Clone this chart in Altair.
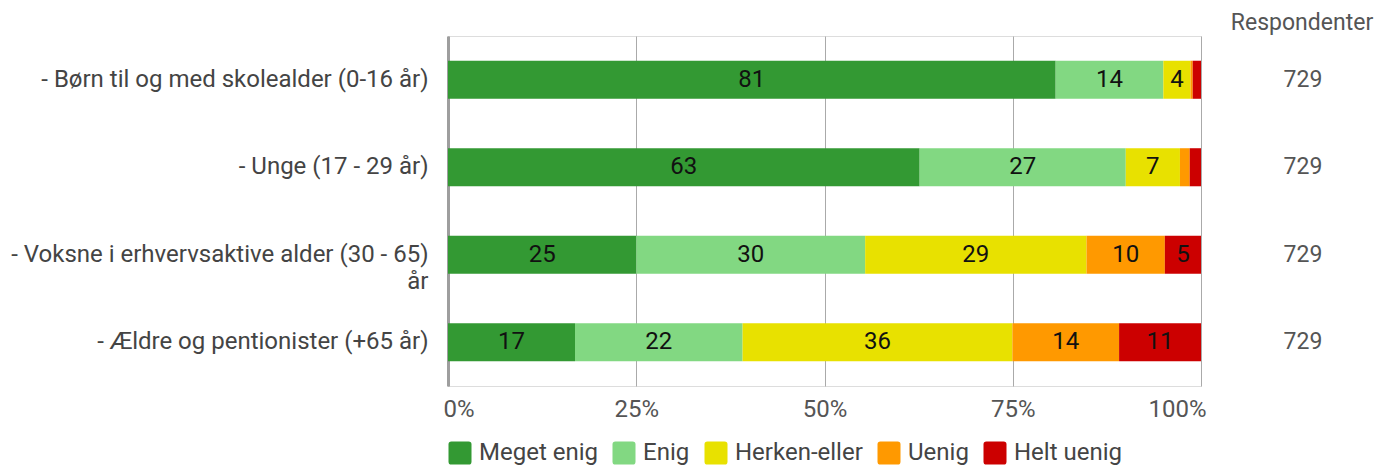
import altair as alt
import pandas as pd

groups = [
    "- Børn til og med skolealder (0-16 år)",
    "- Unge (17 - 29 år)",
    "- Voksne i erhvervsaktive alder (30 - 65)|år",
    "- Ældre og pentionister (+65 år)",
]
answers = ["Meget enig", "Enig", "Herken-eller", "Uenig", "Helt uenig"]
colors = ["#339933", "#82d882", "#e8e100", "#ff9900", "#cc0000"]

meget_enig = [80.7, 62.7, 25.0, 16.9]
enig = [14.3, 27.4, 30.4, 22.3]
herken_eller = [3.6, 7.2, 29.4, 35.9]
uenig = [0.3, 1.3, 10.4, 14.2]
helt_uenig = [1.1, 1.5, 4.8, 10.9]
respondenter = [729, 729, 729, 729]

series = [meget_enig, enig, herken_eller, uenig, helt_uenig]
rows = []
for gi, g in enumerate(groups):
    for ai, a in enumerate(answers):
        rows.append({"group": g, "answer": a, "order": ai, "v": series[ai][gi]})
df = pd.DataFrame(rows)
resp_df = pd.DataFrame({"group": groups, "n": respondenter})

FONT = "Roboto"
W, H = 753, 350
ROUNDED = ("M-0.75,-1 H0.75 Q1,-1 1,-0.75 V0.75 Q1,1 0.75,1 H-0.75 "
           "Q-1,1 -1,0.75 V-0.75 Q-1,-1 -0.75,-1 Z")

y_enc = alt.Y(
    "group:N",
    sort=groups,
    scale=alt.Scale(domain=groups, paddingInner=0.565, paddingOuter=0.2825),
    axis=alt.Axis(
        title=None,
        labelExpr="split(datum.label, '|')",
        labelFontSize=24,
        labelColor="#444444",
        labelFont=FONT,
        labelPadding=20,
        labelLimit=600,
        labelLineHeight=27,
        ticks=False,
        domain=True,
        domainColor="#9e9e9e",
        domainWidth=3,
        grid=False,
    ),
)

base = alt.Chart(df).transform_stack(
    stack="v", groupby=["group"], as_=["x0", "x1"], sort=[alt.SortField("order")], offset="normalize"
).transform_calculate(mid="(datum.x0 + datum.x1) / 2")

bars = base.mark_bar().encode(
    y=y_enc,
    x=alt.X(
        "x0:Q",
        scale=alt.Scale(domain=[0, 1], nice=False),
        axis=alt.Axis(
            title=None,
            format=".0%",
            values=[0, 0.25, 0.5, 0.75, 1],
            grid=True,
            gridColor="#aaaaaa",
            gridWidth=1,
            domain=False,
            ticks=False,
            labelFontSize=24,
            labelColor="#555555",
            labelFont=FONT,
            labelPadding=11,
            labelFlush=True,
            labelFlushOffset=5,
        ),
    ),
    x2="x1:Q",
    color=alt.Color(
        "answer:N",
        sort=answers,
        scale=alt.Scale(domain=answers, range=colors),
        legend=alt.Legend(
            title=None,
            orient="none",
            direction="horizontal",
            legendX=0,
            legendY=405,
            symbolType=ROUNDED,
            symbolSize=529,
            symbolStrokeWidth=0,
            symbolOpacity=1,
            labelFontSize=24,
            labelColor="#444444",
            labelFont=FONT,
            labelOffset=7,
            columnPadding=14,
        ),
    ),
)

labels = base.transform_filter("datum.v >= 3").mark_text(
    fontSize=24, font=FONT, color="#111111", baseline="middle", align="center"
).encode(
    y=alt.Y("group:N", sort=groups),
    x=alt.X("mid:Q"),
    text=alt.Text("v:Q", format=".0f"),
)

resp = alt.Chart(resp_df).mark_text(
    fontSize=23, font=FONT, color="#555555", align="center", baseline="middle"
).encode(
    y=alt.Y("group:N", sort=groups),
    x=alt.value(855),
    text=alt.Text("n:Q"),
)

header = alt.Chart(pd.DataFrame({"t": ["Respondenter"]})).mark_text(
    fontSize=23, font=FONT, color="#555555", align="center", baseline="middle"
).encode(
    x=alt.value(854),
    y=alt.value(-13),
    text="t:N",
)

chart = alt.layer(bars, labels, resp, header).properties(
    width=W, height=H,
    padding={"left": 2, "top": 4, "right": 5, "bottom": 5},
).configure_view(stroke=None).configure(font=FONT)

chart.save("out.html", embed_options={"renderer": "svg", "actions": False})
